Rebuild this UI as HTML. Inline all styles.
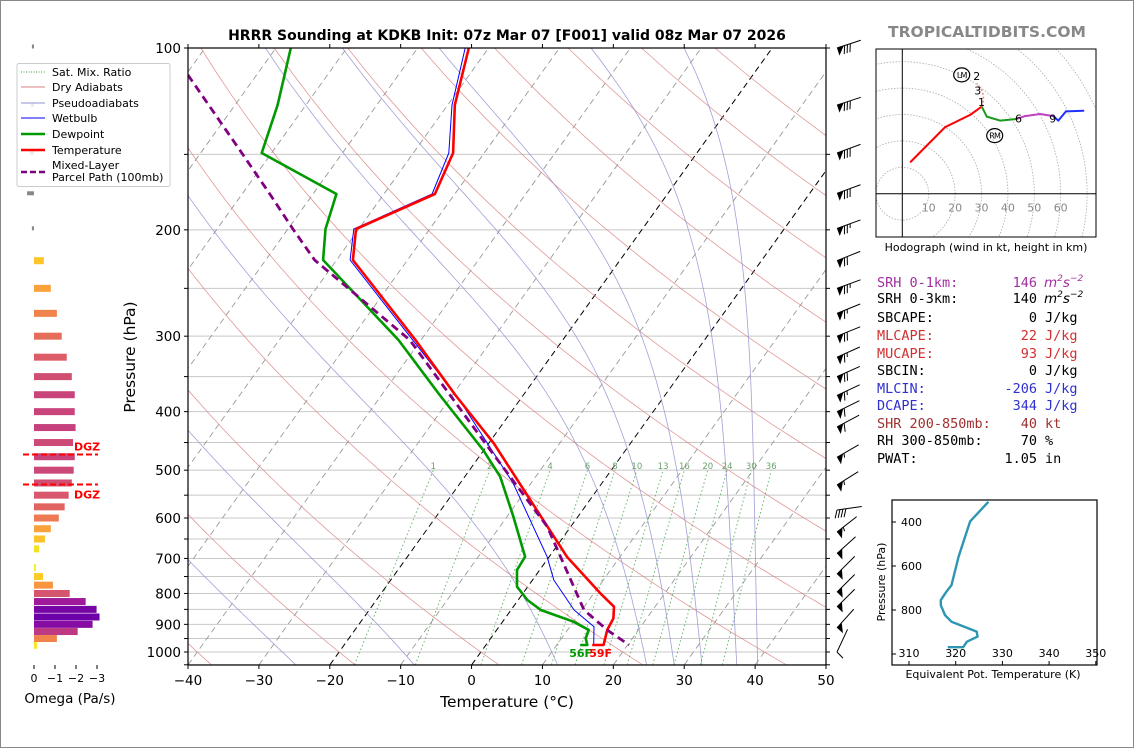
<!DOCTYPE html>
<html><head><meta charset="utf-8"><style>
html,body{margin:0;padding:0;background:#fff;}
svg{display:block;font-family:"DejaVu Sans","Liberation Sans",sans-serif;}
</style></head><body>
<svg id="root" width="1134" height="748" viewBox="0 0 1134 748" xmlns="http://www.w3.org/2000/svg">
<rect x="0.5" y="0.5" width="1133" height="747" fill="#fff" stroke="#888"/>
<text x="507" y="40" text-anchor="middle" font-size="14" font-weight="bold">HRRR Sounding at KDKB Init: 07z Mar 07 [F001] valid 08z Mar 07 2026</text>
<text x="987" y="37" text-anchor="middle" font-size="15.5" font-weight="bold" fill="#888">TROPICALTIDBITS.COM</text>
<defs><clipPath id="plotclip"><rect x="188" y="48" width="638" height="617"/></clipPath>
<clipPath id="hodoclip"><rect x="876" y="49" width="220" height="188"/></clipPath>
<clipPath id="teclip"><rect x="892" y="500" width="205" height="165"/></clipPath></defs>
<g id="skew"></g>
<g id="barbs"></g>
<g id="omega"></g>
<g id="hodo"></g>
<g id="te"></g>
<g id="stats" font-family="'DejaVu Sans Mono','Liberation Mono',monospace" font-size="13.5"></g>
<g id="legend"></g>
</svg>
<script>
// ===== data =====
const tempP = [100,124.3,149.2,174.5,199.4,224.4,304.3,375.4,451.2,560.2,695.4,799.4,841.4,879.7,919.5,973.6,973.6];
const tempT = [-62.8,-59.0,-54.4,-52.8,-60.4,-57.7,-40.8,-29.6,-19.3,-8.4,2.5,10.9,14.2,15.3,15.6,16.6,15.0];
const dewP = [100,124.3,149.2,174.5,199.4,224.4,304.3,375.4,463.1,512.6,597,695.4,731.5,779.7,820.1,852.1,891,919.5,948.9,973.6,973.6];
const dewT = [-87.9,-84,-81.4,-66.7,-64.7,-61.9,-43.2,-31.8,-20.1,-15,-9.1,-3.4,-3.2,-1.5,1.3,4.2,10,13,13.4,14.3,13.3];
const wbP = [100,124.3,149.2,174.5,199.4,224.4,304.3,382.6,525.6,695.4,760,852.1,907.9,973.6];
const wbT = [-63.3,-59.4,-55,-53.2,-60.7,-58.1,-41.2,-28.5,-12.5,-0.3,3,8.9,13.4,15.2];
const parP = [110.8,149.2,174.5,199.4,224.4,304.3,451.2,620.3,852.1,919.5,973.6];
const parT = [-99.7,-84.2,-76.1,-69.3,-63.1,-41.6,-20.5,-3.3,10.3,15.6,20.2];
const tempSfcLabel = "59F";
const dewSfcLabel = "56F";
const xTicks = [-40,-30,-20,-10,0,10,20,30,40,50];
const pTicks = [100,200,300,400,500,600,700,800,900,1000];
const dryTheta = [-40,-20,0,20,40,60,80,100,120,140,160,180,200];
const moistT0 = [-28,-11,10,23,27,31,36,39];
const mixW = [1,2,4,6,8,10,13,16,20,24,30,36];
// wind barbs
const barbP = [100,124.3,149.2,174,199,225,250,275,300,325,350,376,400,424,476,529,582,633,687,743,796,842,912,1000];
const barbSpd = [80,80,80,80,75,70,75,65,70,65,70,65,60,60,55,55,40,55,50,50,50,50,50,10];
const barbDir = [252,252,250,250,250,248,250,248,248,246,246,245,244,242,240,238,262,232,228,225,225,225,222,205];
// omega
const omegaP = [100,125,150,175,200,225,250,275,300,325,350,375,400,425,450,475,500,525,550,575,600,625,650,675,725,750,775,800,825,850,875,900,925,950,975];
const omegaV = [0.1,0.15,0.2,0.33,0.1,-0.47,-0.80,-1.09,-1.32,-1.56,-1.80,-1.94,-1.94,-1.98,-1.86,-1.94,-1.89,-1.80,-1.65,-1.46,-1.18,-0.80,-0.52,-0.24,-0.09,-0.43,-0.90,-1.70,-2.46,-2.98,-3.12,-2.79,-2.08,-1.09,-0.14];
const omegaTicks = [0,-1,-2,-3];
// hodograph
const hodoU = [3.2,16.2,25.6,30.1,32,37,43.3,46.5,52.2,57.2,59.1,62,68.6];
const hodoV = [12.1,25.2,29.8,33,29.2,27.7,28.3,29.4,30.2,29.4,27.7,31.2,31.4];
const hodoSeg = ["red","red","red","red","green","green","green","m","m","m","blue","blue","blue"];
const hodoRings = [10,20,30,40,50,60,70,80];
const hodoRingLabels = [10,20,30,40,50,60];
// theta-e
const teP = [308,397,468,559,687,717,755,778,823,853,898,921,944,969,969];
const teK = [327,323.1,322,320.6,319.1,318,316.8,316.8,317.7,319.1,324.5,324.7,322.4,321.6,318.3];
const teTicksX = [310,320,330,340,350];
const teTicksY = [400,600,800];

const NS="http://www.w3.org/2000/svg";
function mk(parent,tag,attrs,text){const e=document.createElementNS(NS,tag);for(const k in attrs)e.setAttribute(k,attrs[k]);if(text!==undefined)e.textContent=text;parent.appendChild(e);return e;}

// ===== skew-T axes =====
const X0=188,X1=826,Y0=48,Y1=665,PXC=(X1-X0)/90,PXD=604,SK=0.717;
function yP(p){return Y0+PXD*Math.log10(p/100);}
function xT(T,p){return X0+(T+40)*PXC+(Y1-yP(p))*SK;}
const sk=document.getElementById('skew');
const clip=mk(sk,'g',{'clip-path':'url(#plotclip)'});


for(let p=100;p<=1050;p+=50){const y=yP(p);const l=mk(clip,'line',{x1:X0,x2:X1,y1:y,y2:y,stroke:'#c8c8c8','stroke-width':1});

}
for(let T=-160;T<=50;T+=10){const dark=(T===0||T===-20);const l=mk(clip,'line',{x1:xT(T,1050),y1:yP(1050),x2:xT(T,100),y2:yP(100),stroke:dark?'#000':'#999','stroke-width':dark?1:0.9,'stroke-dasharray':'6,4'});

}
function pathFrom(ps,ts){let d='';for(let i=0;i<ps.length;i++){d+=(i?'L':'M')+xT(ts[i],ps[i]).toFixed(1)+','+yP(ps[i]).toFixed(1);}return d;}
dryTheta.forEach(th=>{const ps=[],ts=[];for(let p=1050;p>=100;p-=10){ps.push(p);ts.push((th+273.15)*Math.pow(p/1000,0.2857)-273.15);}
const l=mk(clip,'path',{d:pathFrom(ps,ts),fill:'none',stroke:'#d98080','stroke-width':0.8,opacity:0.8});

});
function es(T){return 6.112*Math.exp(17.67*T/(T+243.5));}
function dTdp(T,p){const Tk=T+273.15,e=es(T),rs=0.622*e/(p-e);return (287*Tk+2.5e6*rs)/(p*(1005+2.5e6*2.5e6*rs*0.622/(287*Tk*Tk)));}
moistT0.forEach(t0=>{const up=[[1000,t0]];let T=t0;for(let p=1000;p>100;p-=5){T-=dTdp(T,p)*5;up.push([p-5,T]);}
T=t0;const dn=[];for(let p=1000;p<1050;p+=5){T+=dTdp(T,p)*5;dn.push([p+5,T]);}
const all=dn.reverse().concat(up);
const l=mk(clip,'path',{d:pathFrom(all.map(a=>a[0]),all.map(a=>a[1])),fill:'none',stroke:'#9090d0','stroke-width':0.8,opacity:0.85});

});
function tdFromW(w,p){const e=w*p/(622+w);const a=Math.log(e/6.112);return 243.5*a/(17.67-a);}
mixW.forEach(w=>{const ps=[1050,500],ts=ps.map(p=>tdFromW(w,p));
const l=mk(clip,'path',{d:pathFrom(ps,ts),fill:'none',stroke:'#3a9a3a','stroke-width':0.9,'stroke-dasharray':'1.5,2.5',opacity:0.8});


const t=mk(clip,'text',{x:xT(ts[1],500),y:yP(500)-1,'font-size':8.5,fill:'#6aa06a','text-anchor':'middle'},String(w));

});
function prof(ps,ts,col,w,dash,name){const a={d:pathFrom(ps,ts),fill:'none',stroke:col,'stroke-width':w,'stroke-linejoin':'round'};if(dash)a['stroke-dasharray']=dash;const l=mk(clip,'path',a);

}
prof(wbP,wbT,'#0000ff',1,null,'wetbulb-line');
prof(dewP,dewT,'#009900',2.6,null,'dewpoint-line');
prof(tempP,tempT,'#ff0000',2.6,null,'temperature-line');
prof(parP,parT,'#800080',2.8,'8,5','parcel-path-line');
const sl1=mk(clip,'text',{x:xT(dewT[dewT.length-1],dewP[dewP.length-1])-11,y:yP(973.6)+12,'font-size':11,'font-weight':'bold',fill:'#009900'},dewSfcLabel);


const sl2=mk(clip,'text',{x:xT(tempT[tempT.length-1],973.6)-3,y:yP(973.6)+12,'font-size':11,'font-weight':'bold',fill:'#ff0000'},tempSfcLabel);


const fr=mk(sk,'rect',{x:X0,y:Y0,width:X1-X0,height:Y1-Y0,fill:'none',stroke:'#000','stroke-width':1.2});


xTicks.forEach(T=>{const x=X0+(T+40)*PXC;mk(sk,'line',{x1:x,x2:x,y1:Y1,y2:Y1+4,stroke:'#000'});mk(sk,'line',{x1:x,x2:x,y1:Y0,y2:Y0-4,stroke:'#000'});
const t=mk(sk,'text',{x:x,y:Y1+20,'font-size':13.5,'text-anchor':'middle'},(T<0?'\u2212':'')+Math.abs(T));

});
for(let p=100;p<=1050;p+=50){const y=yP(p);mk(sk,'line',{x1:X0-4,x2:X0,y1:y,y2:y,stroke:'#000'});mk(sk,'line',{x1:X1,x2:X1+4,y1:y,y2:y,stroke:'#000'});}
pTicks.forEach(p=>{const t=mk(sk,'text',{x:X0-7,y:yP(p)+5,'font-size':13.5,'text-anchor':'end'},String(p));

});
const xl=mk(sk,'text',{x:507,y:707,'font-size':15.5,'text-anchor':'middle'},'Temperature (\u00B0C)');


const yl=mk(sk,'text',{x:0,y:0,'font-size':15.5,'text-anchor':'middle',transform:'translate(135,357) rotate(-90)'},'Pressure (hPa)');



// ===== wind barbs =====
const bg=document.getElementById('barbs');
barbP.forEach((p,i)=>{const dir=barbDir[i]*Math.PI/180;const dx=Math.sin(dir),dy=-Math.cos(dir);
const tx=837,ty=yP(p);const L=25;const hx=tx-L*dx,hy=ty-L*dy;
const g=mk(bg,'g',{});


mk(g,'line',{x1:tx,y1:ty,x2:hx,y2:hy,stroke:'#000','stroke-width':1});
const px=dy,py=-dx;
let s=barbSpd[i],pos=0;
while(s>=50){const ax=tx-dx*pos,ay=ty-dy*pos,bx=tx-dx*(pos+7),by=ty-dy*(pos+7);
mk(g,'path',{d:`M${ax},${ay}L${bx},${by}L${ax+px*8},${ay+py*8}Z`,fill:'#000'});pos+=8;s-=50;}
while(s>=10){const ax=tx-dx*pos,ay=ty-dy*pos;mk(g,'line',{x1:ax,y1:ay,x2:ax+px*8+dx*3,y2:ay+py*8+dy*3,stroke:'#000','stroke-width':1});pos+=3;s-=10;}
if(s>=5){const ax=tx-dx*pos,ay=ty-dy*pos;mk(g,'line',{x1:ax,y1:ay,x2:ax+px*4+dx*1.5,y2:ay+py*4+dy*1.5,stroke:'#000','stroke-width':1});}
});

// ===== omega panel =====
const og=document.getElementById('omega');
const OX=34,OU=21;
function omegaColor(v){const a=Math.abs(v);if(v>0)return '#888';
const stops=[[0,[240,249,33]],[0.5,[253,195,40]],[0.9,[248,149,64]],[1.3,[232,110,90]],[1.9,[204,71,120]],[2.5,[156,23,158]],[3.1,[110,0,168]]];
for(let i=1;i<stops.length;i++){if(a<=stops[i][0]){const f=(a-stops[i-1][0])/(stops[i][0]-stops[i-1][0]);const c=stops[i-1][1].map((x,j)=>Math.round(x+(stops[i][1][j]-x)*f));return `rgb(${c})`;}}
return 'rgb(110,0,168)';}
omegaP.forEach((p,i)=>{const v=omegaV[i];const y=yP(p);const x=v<0?OX:OX-v*OU;const w=Math.abs(v)*OU;
const r=mk(og,'rect',{x:x,y:y-3.5,width:Math.max(w,1),height:v>0?4:7,fill:omegaColor(v)});

});
omegaTicks.forEach(t=>{const x=OX-t*OU;mk(og,'line',{x1:x,x2:x,y1:665,y2:669,stroke:'#000'});
const tl=mk(og,'text',{x:x,y:682,'font-size':11,'text-anchor':'middle'},t===0?'0':'\u2212'+Math.abs(t));

});
const ot=mk(og,'text',{x:70,y:703,'font-size':13.5,'text-anchor':'middle'},'Omega (Pa/s)');


[yP(471),yP(528)].forEach((y,i)=>{const l=mk(og,'line',{x1:23,x2:98,y1:y,y2:y,stroke:'#ff0000','stroke-width':2,'stroke-dasharray':'6,3'});


const t=mk(og,'text',{x:74,y:i===0?y-4:y+14,'font-size':11,'font-weight':'bold',fill:'#ff0000'},'DGZ');

});

// ===== legend =====
const lg=document.getElementById('legend');
const lb=mk(lg,'rect',{x:17,y:63.5,width:153,height:123,rx:2,fill:'#fff','fill-opacity':0.85,stroke:'#ccc'});


const items=[['Sat. Mix. Ratio','#3a9a3a',1,'1,1.5',75],['Dry Adiabats','#d98080',1,null,90],['Pseudoadiabats','#9090d0',1,null,106],['Wetbulb','#0000ff',1,null,121],['Dewpoint','#009900',2.5,null,137],['Temperature','#ff0000',2.5,null,153]];
items.forEach(it=>{const g=mk(lg,'g',{});


const a={x1:21,x2:45,y1:it[4]-3,y2:it[4]-3,stroke:it[1],'stroke-width':it[2]};if(it[3])a['stroke-dasharray']=it[3];mk(g,'line',a);
mk(g,'text',{x:52,y:it[4]+1,'font-size':11},it[0]);});
const g7=mk(lg,'g',{});


mk(g7,'line',{x1:21,x2:45,y1:172,y2:172,stroke:'#800080','stroke-width':2.5,'stroke-dasharray':'6,3'});
mk(g7,'text',{x:52,y:169,'font-size':11},'Mixed-Layer');
mk(g7,'text',{x:52,y:181,'font-size':11},'Parcel Path (100mb)');

// ===== hodograph =====
const hg=document.getElementById('hodo');
const HX=902.3,HY=193.7,HS=2.64;
function hx(u){return HX+u*HS;} function hy(v){return HY-v*HS;}
const hc=mk(hg,'g',{'clip-path':'url(#hodoclip)'});
hodoRings.forEach(r=>{const c=mk(hc,'circle',{cx:hx(0),cy:hy(0),r:r*HS,fill:'none',stroke:'#aaa','stroke-width':0.8,'stroke-dasharray':'1.5,1.5'});

});
mk(hc,'line',{x1:876,x2:1096,y1:hy(0),y2:hy(0),stroke:'#000','stroke-width':1});
mk(hc,'line',{x1:hx(0),x2:hx(0),y1:49,y2:237,stroke:'#000','stroke-width':1});
hodoRingLabels.forEach(r=>{const t=mk(hc,'text',{x:hx(r),y:hy(0)+18,'font-size':11,fill:'#888','text-anchor':'middle'},String(r));

});
const segCol={red:'#ff0000',green:'#1a9a1a',m:'#c040c0',blue:'#2030ff'};
for(let i=1;i<hodoU.length;i++){const c=segCol[hodoSeg[i]];const l=mk(hc,'line',{x1:hx(hodoU[i-1]),y1:hy(hodoV[i-1]),x2:hx(hodoU[i]),y2:hy(hodoV[i]),stroke:c,'stroke-width':2,'stroke-linecap':'round'});

}
mk(hc,'path',{d:`M${hx(30.1)},${hy(33)}Q${hx(32)},${hy(38)} ${hx(28.2)},${hy(41.8)}`,fill:'none',stroke:'#ff8080','stroke-width':1.5,'stroke-dasharray':'2,2'});
[['1',30,34.8],['2',28.2,44.5],['3',28.6,39],['6',44,28.5],['9',57,28.5]].forEach(a=>{const t=mk(hc,'text',{x:hx(a[1]),y:hy(a[2])+4,'font-size':11,'text-anchor':'middle'},a[0]);

});
[['LM',22.5,45],['RM',35,22]].forEach(a=>{mk(hc,'ellipse',{cx:hx(a[1]),cy:hy(a[2]),rx:8,ry:7,fill:'none',stroke:'#000','stroke-width':1.2});
const t=mk(hc,'text',{x:hx(a[1]),y:hy(a[2])+3,'font-size':8,'text-anchor':'middle','letter-spacing':'-0.8'},a[0]);

});
mk(hg,'rect',{x:876,y:49,width:220,height:188,fill:'none',stroke:'#000','stroke-width':1});
const ht=mk(hg,'text',{x:986,y:251,'font-size':11,'text-anchor':'middle'},'Hodograph (wind in kt, height in km)');



// ===== stats =====
const st=document.getElementById('stats');
const rows=[['SRH 0-1km:','146','#a030a0',true],['SRH 0-3km:','140','#000',true],['SBCAPE:','0 J/kg','#000'],['MLCAPE:','22 J/kg','#d03030'],['MUCAPE:','93 J/kg','#d03030'],['SBCIN:','0 J/kg','#000'],['MLCIN:','-206 J/kg','#3030d0'],['DCAPE:','344 J/kg','#3030d0'],['SHR 200-850mb:','40 kt','#a03030'],['RH 300-850mb:','70 %','#000'],['PWAT:','1.05 in','#000']];
const rowY=[287,303,322,340,358,375,393,410,428,445,463];
rows.forEach((r,i)=>{const g=mk(st,'g',{fill:r[2]});


mk(g,'text',{x:877,y:rowY[i]},r[0]);
if(r[3]){mk(g,'text',{x:1037,y:rowY[i],'text-anchor':'end'},r[1]);
const u=mk(g,'text',{x:1044,y:rowY[i],'font-family':'DejaVu Sans,sans-serif','font-style':'italic','font-size':13.5},'m');
mk(u,'tspan',{'font-size':9,dy:-6},'2');mk(u,'tspan',{dy:6},'s');mk(u,'tspan',{'font-size':9,dy:-6},'\u22122');}
else{const parts=r[1].split(' ');mk(g,'text',{x:1037,y:rowY[i],'text-anchor':'end'},parts[0]);mk(g,'text',{x:1045,y:rowY[i]},parts[1]);}
});

// ===== theta-e =====
const tg=document.getElementById('te');
function tex(k){return 909+(k-310)*4.67;} function tey(p){return 500+(p-300)*0.22;}
const tc=mk(tg,'g',{'clip-path':'url(#teclip)'});
let d='';teP.forEach((p,i)=>{d+=(i?'L':'M')+tex(teK[i]).toFixed(1)+','+tey(p).toFixed(1);});
const tl=mk(tc,'path',{d:d,fill:'none',stroke:'#2e96b4','stroke-width':2.4,'stroke-linejoin':'round'});


mk(tg,'rect',{x:892,y:500,width:205,height:165,fill:'none',stroke:'#000','stroke-width':1.2});
teTicksX.forEach(k=>{mk(tg,'line',{x1:tex(k),x2:tex(k),y1:665,y2:661,stroke:'#000'});
const t=mk(tg,'text',{x:tex(k),y:657,'font-size':11,'text-anchor':'middle'},String(k));

});
teTicksY.concat([1000]).forEach(p=>{mk(tg,'line',{x1:892,x2:896,y1:tey(p),y2:tey(p),stroke:'#000'});});
teTicksY.forEach(p=>{const t=mk(tg,'text',{x:901,y:tey(p)+4,'font-size':11},String(p));

});
const tx1=mk(tg,'text',{x:993,y:678,'font-size':11,'text-anchor':'middle'},'Equivalent Pot. Temperature (K)');


const ty1=mk(tg,'text',{x:0,y:0,'font-size':11,'text-anchor':'middle',transform:'translate(885,582) rotate(-90)'},'Pressure (hPa)');


</script>
</body></html>
